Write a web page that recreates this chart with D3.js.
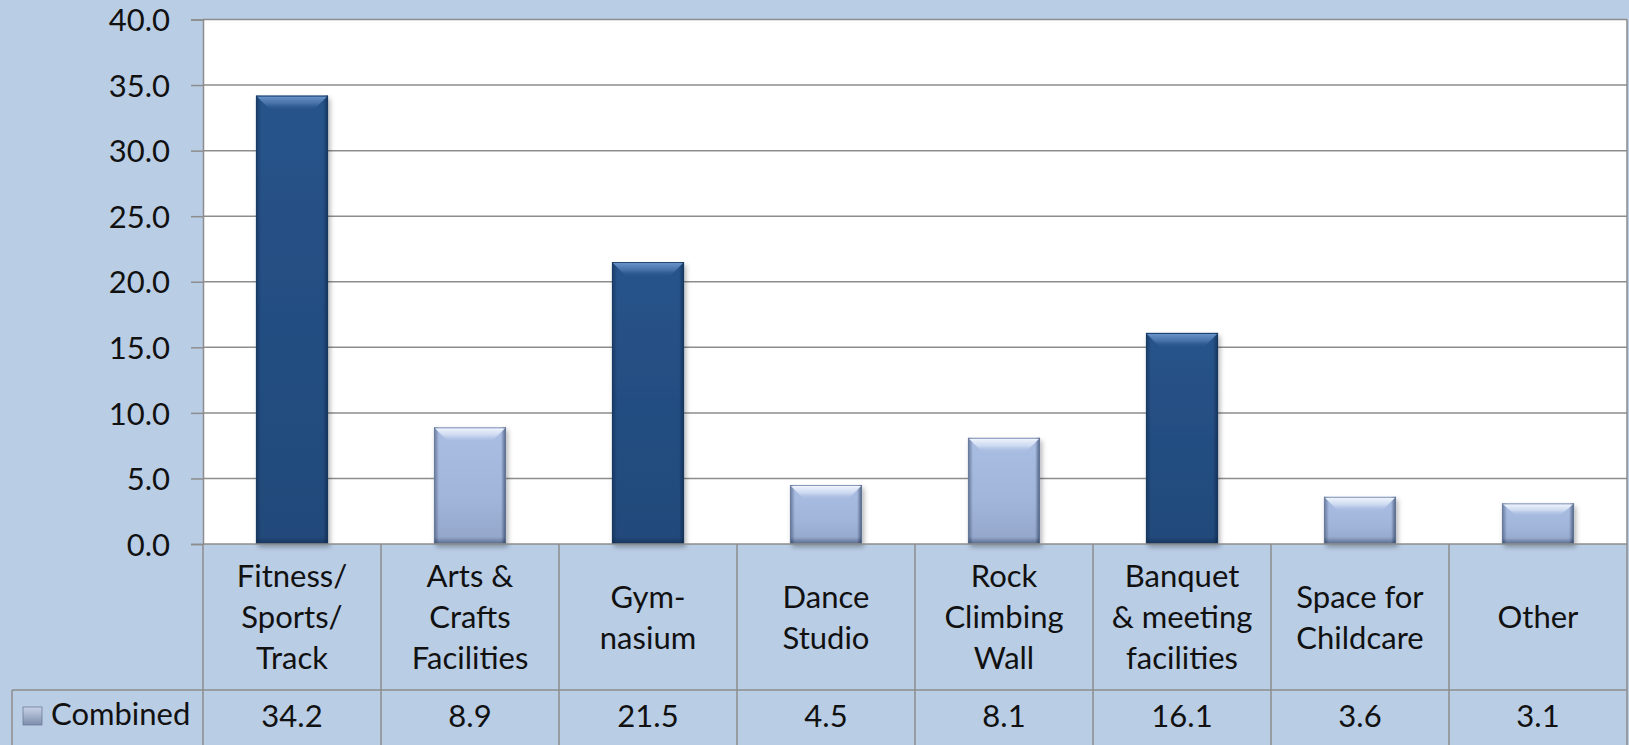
<!DOCTYPE html>
<html><head><meta charset="utf-8">
<script src="https://cdn.jsdelivr.net/npm/d3@7"></script>
<style>
html,body{margin:0;padding:0;background:#b9cde5;}
svg{display:block;}
text{font-family:Lato,"Open Sans",sans-serif;fill:#111;}
</style></head>
<body>
<script>
const categories = [
  ["Fitness/","Sports/","Track"],
  ["Arts &","Crafts","Facilities"],
  ["Gym-","nasium"],
  ["Dance","Studio"],
  ["Rock","Climbing","Wall"],
  ["Banquet","& meeting","facilities"],
  ["Space for","Childcare"],
  ["Other"]
];
const seriesName = "Combined";
const values = [34.2, 8.9, 21.5, 4.5, 8.1, 16.1, 3.6, 3.1];
const yTicks = [0, 5, 10, 15, 20, 25, 30, 35, 40];
const highlightThreshold = 15;

const W = 1629, H = 745;
const plotL = 203, plotR = 1627, plotT = 19.5, plotB = 544;
const rowTop = 690, tableL = 12;
const fs = 31;

const svg = d3.select("body").append("svg").attr("width", W).attr("height", H);
const defs = svg.append("defs");

function grad(id, stops, dir) {
  const c = {v: [0,0,0,1], h: [0,0,1,0], hr: [1,0,0,0], vu: [0,1,0,0]}[dir];
  const g = defs.append("linearGradient").attr("id", id)
    .attr("x1", c[0]).attr("y1", c[1]).attr("x2", c[2]).attr("y2", c[3]);
  stops.forEach(s => g.append("stop").attr("offset", s[0]).attr("stop-color", s[1]).attr("stop-opacity", s[2] === undefined ? 1 : s[2]));
}
grad("darkBody", [[0, "#28538a"], [0.5, "#244e82"], [1, "#214a7a"]], "v");
grad("lightBody", [[0, "#aabde2"], [0.6, "#a1b4d9"], [1, "#93a6ca"]], "v");
grad("darkTop", [[0, "#6a94ca", 1], [0.5, "#4b77ad", 0.85], [1, "#28538a", 0]], "v");
grad("lightTop", [[0, "#f0f5fd", 1], [0.5, "#d2def3", 0.85], [1, "#aabde2", 0]], "v");
grad("edgeL", [[0, "#0b1f3d", 0.45], [1, "#0b1f3d", 0]], "h");
grad("edgeR", [[0, "#0b1f3d", 0.6], [1, "#0b1f3d", 0]], "hr");
grad("edgeB", [[0, "#0b1f3d", 0.45], [1, "#0b1f3d", 0]], "vu");
grad("legendBox", [[0, "#c8d3e8"], [1, "#7d8dac"]], "v");
const f = defs.append("filter").attr("id", "shadow").attr("x", "-20%").attr("y", "-20%").attr("width", "150%").attr("height", "150%");
f.append("feDropShadow").attr("dx", 2).attr("dy", 3).attr("stdDeviation", 2.5).attr("flood-color", "#000").attr("flood-opacity", 0.3);

const labels = categories.map(c => c.join(" "));
const xCell = d3.scaleBand().domain(labels).range([plotL, plotR]).padding(0);
const xBar = d3.scaleBand().domain(labels).range([plotL, plotR]).paddingInner(0.595).paddingOuter(0.2975);
const y = d3.scaleLinear().domain([0, 40]).range([plotB, plotT]);

// plot area
svg.append("rect").attr("x", plotL).attr("y", plotT).attr("width", plotR - plotL).attr("height", plotB - plotT).attr("fill", "#fff");

// gridlines
svg.append("g").selectAll("line").data(yTicks.filter(t => t > 0)).join("line")
  .attr("x1", plotL).attr("x2", plotR).attr("y1", d => y(d)).attr("y2", d => y(d))
  .attr("stroke", "#8d8d8d").attr("stroke-width", 1.5);

// y axis
const yAxis = svg.append("g").attr("transform", `translate(${plotL},0)`)
  .call(d3.axisLeft(y).tickValues(yTicks).tickFormat(d3.format(".1f")).tickSize(12).tickPadding(21));
yAxis.select(".domain").attr("stroke", "#8d8d8d").attr("stroke-width", 1.5);
yAxis.selectAll(".tick line").attr("stroke", "#8d8d8d").attr("stroke-width", 1.5);
yAxis.selectAll(".tick text").attr("font-size", fs).attr("font-family", "Lato").attr("fill", "#111").attr("dy", "0.36em");

// bars
const bw = xBar.bandwidth();
const bars = svg.append("g").selectAll("g.bar").data(values.map((v, i) => ({v, k: labels[i]}))).join("g").attr("class", "bar");
bars.each(function(d) {
  const g = d3.select(this);
  const x0 = xBar(d.k), x1 = x0 + bw, y0 = y(d.v), y1 = y(0);
  const dark = d.v >= highlightThreshold;
  const h = y1 - y0;
  const tb = Math.min(15, h * 0.32), sb = 5, bb = Math.min(7, h * 0.15), ti = 15;
  g.append("rect").attr("x", x0).attr("y", y0).attr("width", bw).attr("height", h)
    .attr("fill", dark ? "url(#darkBody)" : "url(#lightBody)").attr("filter", "url(#shadow)");
  g.append("rect").attr("x", x0).attr("y", y0).attr("width", sb).attr("height", h).attr("fill", "url(#edgeL)");
  g.append("rect").attr("x", x1 - sb).attr("y", y0).attr("width", sb).attr("height", h).attr("fill", "url(#edgeR)");
  g.append("rect").attr("x", x0).attr("y", y1 - bb).attr("width", bw).attr("height", bb).attr("fill", "url(#edgeB)");
  g.append("path").attr("d", `M${x0 + 1},${y0 + 1}L${x1 - 1},${y0 + 1}L${x1 - ti},${y0 + tb}L${x0 + ti},${y0 + tb}Z`)
    .attr("fill", dark ? "url(#darkTop)" : "url(#lightTop)");
  g.append("rect").attr("x", x0 + 0.5).attr("y", y0 + 0.5).attr("width", bw - 1).attr("height", h - 1)
    .attr("fill", "none").attr("stroke", dark ? "#183a63" : "#6e7f9f").attr("stroke-opacity", 0.6).attr("stroke-width", 1);
});

// table grid
const tg = svg.append("g").attr("stroke", "#8d8d8d").attr("stroke-width", 1.5);
const bounds = labels.map(k => xCell(k)).concat([plotR]);
tg.selectAll("line.v").data(bounds).join("line").attr("class", "v")
  .attr("x1", d => d).attr("x2", d => d).attr("y1", plotB).attr("y2", H);
tg.append("line").attr("x1", plotR).attr("x2", plotR).attr("y1", plotT).attr("y2", plotB);
tg.append("line").attr("x1", plotL).attr("x2", plotR).attr("y1", plotB).attr("y2", plotB);
tg.append("line").attr("x1", tableL).attr("x2", plotR).attr("y1", rowTop).attr("y2", rowTop);
tg.append("line").attr("x1", tableL).attr("x2", tableL).attr("y1", rowTop).attr("y2", H);

// category labels
const lh = 41;
const catMid = (plotB + rowTop) / 2;
svg.append("g").selectAll("text").data(categories).join("text")
  .attr("text-anchor", "middle").attr("font-size", fs)
  .attr("x", (d, i) => xCell.bandwidth() / 2 + xCell(labels[i]))
  .each(function(d) {
    const t = d3.select(this);
    d.forEach((line, j) => {
      t.append("tspan").attr("x", t.attr("x"))
        .attr("y", catMid + (j - (d.length - 1) / 2) * lh)
        .attr("dy", "0.36em").text(line);
    });
  });

// values row
svg.append("g").selectAll("text").data(values).join("text")
  .attr("text-anchor", "middle").attr("font-size", fs)
  .attr("x", (d, i) => xCell(labels[i]) + xCell.bandwidth() / 2)
  .attr("y", 716).attr("dy", "0.36em")
  .text(d => d3.format(".1f")(d));

// legend
svg.append("rect").attr("x", 23).attr("y", 707).attr("width", 19).attr("height", 18)
  .attr("fill", "url(#legendBox)").attr("stroke", "#6d7c99").attr("stroke-width", 0.8);
svg.append("text").attr("x", 51).attr("y", 714).attr("dy", "0.36em").attr("font-size", fs).text(seriesName);
</script>
</body></html>
